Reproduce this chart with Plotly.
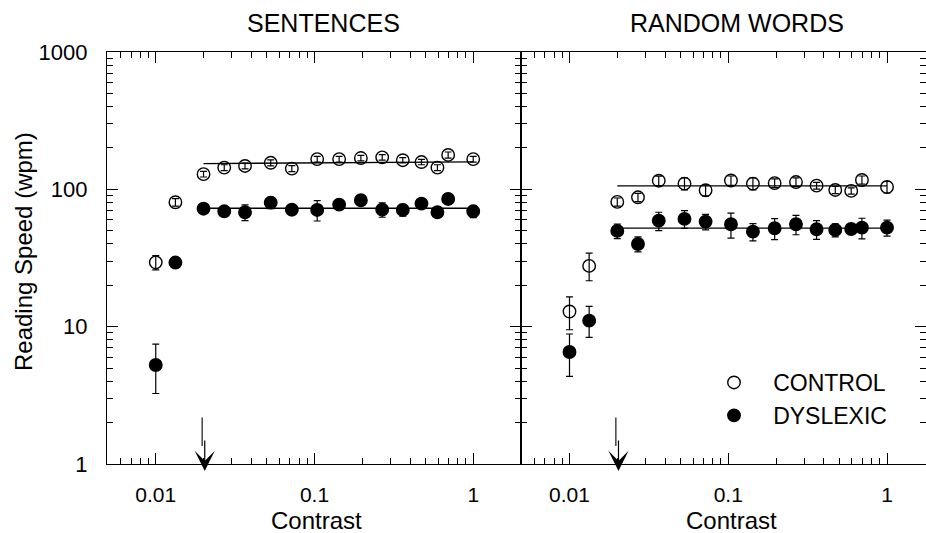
import numpy as np
import plotly.graph_objects as go

# ---------------- data ----------------
contrast = [0.01, 0.0133, 0.02, 0.027, 0.0365, 0.053, 0.072, 0.104, 0.143,
            0.196, 0.267, 0.36, 0.472, 0.595, 0.695, 1.0]

sent_control = [29.4, 80.5, 129, 144, 148, 156, 141.6, 166, 166, 169, 171, 163, 158, 144, 178, 166]
sent_control_err = [3.5, 5, 6, 7, 7, 8, 7, 8, 8, 8, 8, 7, 7, 7, 9, 8]

sent_dyslexic = [5.26, 29.3, 72.3, 69.2, 68.1, 80.0, 71.1, 70.8, 77.4, 83.3, 71.1, 70.8, 78.7, 68.1, 85.1, 69.2]
sent_dyslexic_err_plus = [2.2, 2, 3, 3, 9, 7.6, 6, 12, 5, 7, 8.5, 7, 5, 4, 7.5, 7]
sent_dyslexic_err_minus = [2.0, 2, 3, 3, 9, 7.6, 6, 12, 5, 7, 8.5, 7, 5, 4, 7.5, 7]

word_control = [12.9, 27.7, 81, 87.5, 115.6, 110, 98.5, 116, 110, 111, 113, 106.4, 99, 97.4, 117, 104]
word_control_err_plus = [3.6, 6.6, 5.5, 6, 9, 11, 9, 9, 11, 8, 8, 6, 6, 5, 8, 10]
word_control_err_minus = [3.4, 6.1, 5.5, 6, 9, 11, 9, 9, 11, 8, 8, 6, 6, 5, 8, 10]

word_dyslexic = [6.54, 11.06, 49.8, 40.0, 59.1, 60.9, 58.2, 55.7, 49.2, 52.1, 55.7, 51.2, 50.6, 51.4, 52.6, 52.6]
word_dyslexic_err_plus = [2.3, 3.0, 6, 5, 9, 9, 7.5, 11.5, 7, 9, 9, 8, 5.5, 4.5, 9, 7]
word_dyslexic_err_minus = [2.2, 2.7, 6, 5, 9, 9, 7.5, 11.5, 7, 9, 9, 8, 5.5, 4.5, 9, 7]

fit_x = [0.02, 1.0]
sent_control_fit = [154, 158.4]
sent_dyslexic_fit = [72.8, 72.8]
word_control_fit = [106, 106]
word_dyslexic_fit = [52.1, 52.1]

critical_contrast = 0.02

panel_titles = ["SENTENCES", "RANDOM WORDS"]
x_tickvals = [0.01, 0.1, 1]
x_ticktext = ["0.01", "0.1", "1"]
y_tickvals = [1, 10, 100, 1000]
y_ticktext = ["1", "10", "100", "1000"]
series_names = ["CONTROL", "DYSLEXIC"]

# ---------------- figure ----------------
FONT = "Liberation Sans, Arial, Helvetica, sans-serif"
W, H = 926, 533
fig = go.Figure()

def add_series(xa, ya, y, ep, em, filled, name):
    fig.add_trace(go.Scatter(
        x=contrast, y=y, xaxis=xa, yaxis=ya, mode="markers", name=name,
        showlegend=False,
        marker=dict(symbol="circle" if filled else "circle-open", size=12.5,
                    color="black", line=dict(color="black", width=1.4)),
        error_y=dict(type="data", array=ep, arrayminus=em, symmetric=False,
                     color="black", thickness=1.2, width=3.5),
    ))

def add_fit(xa, ya, y):
    fig.add_trace(go.Scatter(x=fit_x, y=y, xaxis=xa, yaxis=ya, mode="lines",
                             line=dict(color="black", width=1.3), showlegend=False,
                             hoverinfo="skip"))

add_fit("x", "y", sent_control_fit)
add_fit("x", "y", sent_dyslexic_fit)
add_fit("x2", "y2", word_control_fit)
add_fit("x2", "y2", word_dyslexic_fit)
add_series("x", "y", sent_control, sent_control_err, sent_control_err, False, series_names[0])
add_series("x", "y", sent_dyslexic, sent_dyslexic_err_plus, sent_dyslexic_err_minus, True, series_names[1])
add_series("x2", "y2", word_control, word_control_err_plus, word_control_err_minus, False, series_names[0])
add_series("x2", "y2", word_dyslexic, word_dyslexic_err_plus, word_dyslexic_err_minus, True, series_names[1])

# legend entries
NBSP = "\u00a0"
for filled, name in [(False, series_names[0]), (True, series_names[1])]:
    fig.add_trace(go.Scatter(
        x=[None], y=[None], xaxis="x2", yaxis="y2", mode="markers",
        name=NBSP * 3 + name, showlegend=True,
        marker=dict(symbol="circle" if filled else "circle-open", size=12.5,
                    color="black", line=dict(color="black", width=1.4)),
    ))

minor_x = [m * 10 ** e for e in (-3, -2, -1, 0) for m in range(2, 10)]
minor_y = [m * 10 ** e for e in (0, 1, 2) for m in range(2, 10)]

def xaxis_style(rng, dom):
    return dict(type="log", range=rng, domain=dom, tickmode="array",
                tickvals=x_tickvals, ticktext=x_ticktext, ticks="inside",
                ticklen=11, tickwidth=1.2, tickcolor="black",
                showline=True, linecolor="black", linewidth=1.3, mirror="allticks",
                showgrid=False, zeroline=False, ticklabelstandoff=12,
                tickfont=dict(family=FONT, size=21, color="black"),
                minor=dict(tickmode="array", tickvals=minor_x, ticks="inside",
                           ticklen=6, tickwidth=1, tickcolor="black", showgrid=False))

def yaxis_style(dom, labels, anchor):
    return dict(type="log", range=[0, 3], domain=dom, anchor=anchor, tickmode="array",
                tickvals=y_tickvals, ticktext=y_ticktext, showticklabels=labels,
                ticks="inside", ticklen=11, tickwidth=1.2, tickcolor="black",
                showline=True, linecolor="black", linewidth=1.3, mirror="allticks",
                showgrid=False, zeroline=False, ticklabelstandoff=14,
                tickfont=dict(family=FONT, size=22, color="black"),
                minor=dict(tickmode="array", tickvals=minor_y, ticks="inside",
                           ticklen=6, tickwidth=1, tickcolor="black", showgrid=False))

x_left = [107 / W, 521 / W]
x_right = [521 / W, 1.0]
y_dom = [1 - 464 / H, 1 - 52 / H]

fig.update_layout(
    width=W, height=H, margin=dict(l=0, r=0, t=0, b=0, autoexpand=False),
    paper_bgcolor="white", plot_bgcolor="white",
    font=dict(family=FONT, color="black"),
    xaxis=xaxis_style([np.log10(0.00493), np.log10(2.0)], x_left) | dict(anchor="y"),
    yaxis=yaxis_style(y_dom, True, "x"),
    xaxis2=xaxis_style([np.log10(0.00495), np.log10(1.76)], x_right) | dict(anchor="y2"),
    yaxis2=yaxis_style(y_dom, False, "x2"),
    legend=dict(x=714 / W, y=1 - 361 / H, xanchor="left", yanchor="top",
                bgcolor="rgba(0,0,0,0)", font=dict(family=FONT, size=23, color="black"),
                itemwidth=30, tracegroupgap=0),
)

def label(text, cx, cy, size, angle=0):
    return dict(text=text, x=cx / W, y=1 - cy / H, xref="paper", yref="paper",
                xanchor="center", yanchor="middle", textangle=angle, showarrow=False,
                font=dict(family=FONT, size=size, color="black"))

ann = [
    label(panel_titles[0], 323, 23, 25),
    label(panel_titles[1], 737, 23, 25),
    label("Contrast", 316, 520, 24),
    label("Contrast", 731, 520, 24),
    label("Reading Speed (wpm)", 23, 252, 24, -90),
]
for xr, yr in (("x", "y"), ("x2", "y2")):
    ann.append(dict(text="", x=np.log10(critical_contrast), y=0, xref=xr, yref=yr,
                    xshift=-1.4, yshift=18, showarrow=True, arrowhead=0,
                    arrowwidth=1.1, arrowcolor="black", ax=0, ay=-30))
    ann.append(dict(text="", x=np.log10(critical_contrast), y=0, xref=xr, yref=yr,
                    xshift=1.2, yshift=-7, showarrow=True, arrowhead=3, arrowsize=2.8,
                    arrowwidth=1.2, arrowcolor="black", ax=0, ay=-32))
fig.update_layout(annotations=ann)

fig.write_html("out.html", config={"displayModeBar": False},
               post_script="document.body.style.margin='0px';")
